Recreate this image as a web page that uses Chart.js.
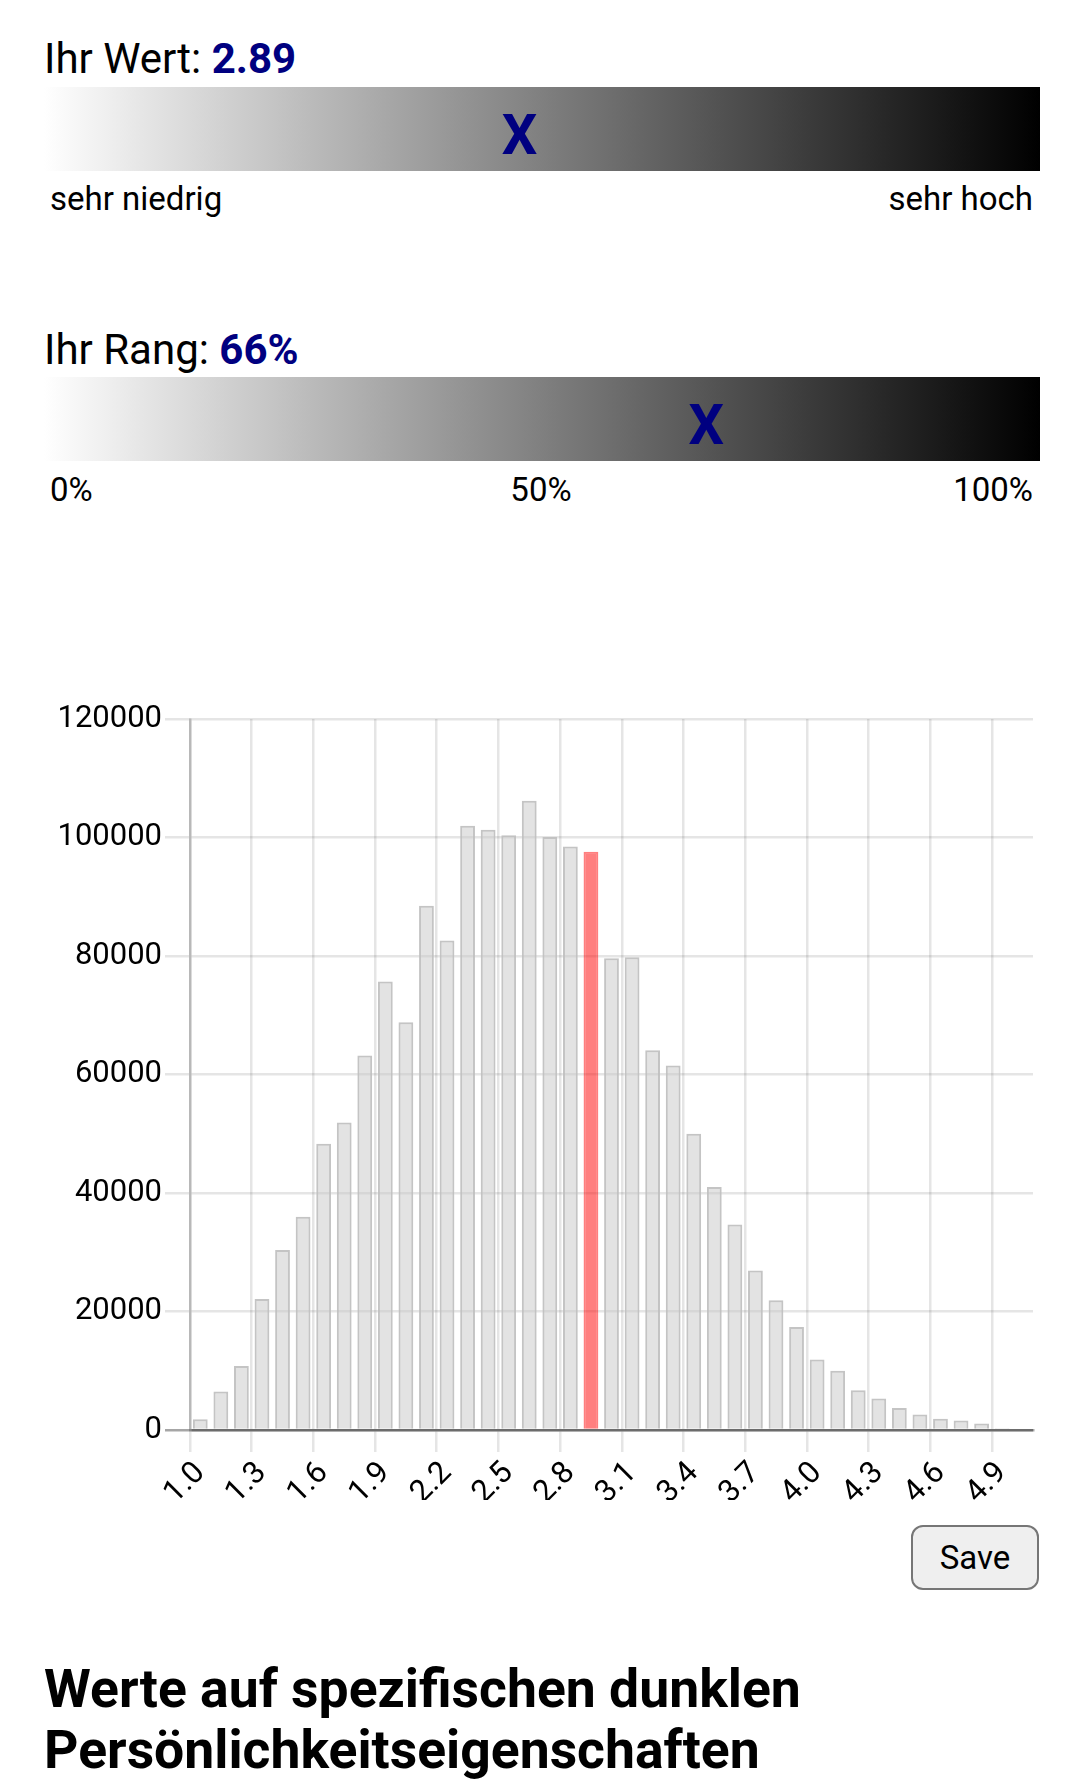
<!DOCTYPE html>
<html lang="de">
<head>
<meta charset="utf-8">
<title>Ihr Wert</title>
<script src="https://cdn.jsdelivr.net/npm/chart.js@4.4.1/dist/chart.umd.min.js"></script>
<style>
  html, body { margin: 0; padding: 0; background: #fff; }
  body {
    width: 1080px; height: 1790px; position: relative; overflow: hidden;
    font-family: Roboto, "Noto Sans", sans-serif; color: #000;
  }
  .title { position: absolute; left: 44px; font-size: 42px; line-height: 42px; white-space: nowrap; }
  .title b { color: #000080; font-weight: 700; }
  .scale {
    position: absolute; left: 44px; width: 996px; height: 84px;
    background: linear-gradient(to right, #fff, #000);
  }
  .marker {
    position: absolute; top: 20px; font-size: 56px; line-height: 56px;
    font-weight: 700; color: #000080; transform: translateX(-50%);
  }
  .lbl { position: absolute; font-size: 33px; line-height: 33px; white-space: nowrap; }
  #chartBox { position: absolute; left: 0; top: 690px; width: 1080px; height: 810px; }
  #saveBtn {
    position: absolute; left: 911px; top: 1525px; width: 128px; height: 65px;
    font-family: Roboto, sans-serif; font-size: 33px; color: #000;
    background: #efefef; border: 2px solid #767676; border-radius: 12px; padding: 0;
  }
  h3 {
    position: absolute; left: 44px; top: 1658px; margin: 0;
    font-size: 53.5px; line-height: 61px; font-weight: 700;
  }
</style>
</head>
<body>

<div class="title" style="top:38px">Ihr Wert: <b id="wertText"></b></div>
<div class="scale" style="top:87px"><span class="marker" id="wertX">X</span></div>
<div class="lbl" style="left:50px; top:182px">sehr niedrig</div>
<div class="lbl" style="right:47px; top:182px">sehr hoch</div>

<div class="title" style="top:329px">Ihr Rang: <b id="rangText"></b></div>
<div class="scale" style="top:377px"><span class="marker" id="rangX">X</span></div>
<div class="lbl" style="left:50px; top:473px">0%</div>
<div class="lbl" style="left:541px; top:473px; transform:translateX(-50%)">50%</div>
<div class="lbl" style="right:47px; top:473px">100%</div>

<div id="chartBox"><canvas id="histChart" width="1080" height="810"></canvas></div>
<button id="saveBtn">Save</button>

<h3>Werte auf spezifischen dunklen<br>Persönlichkeitseigenschaften</h3>

<script>
// Wert des Nutzers und Rang
const userValue = 2.89;
const userRank = 66;
const scaleMin = 1;
const scaleMax = 5;

// Kategorien (Wertebereich) und Häufigkeiten
const categories = ['1.0', '1.1', '1.2', '1.3', '1.4', '1.5', '1.6', '1.7', '1.8', '1.9',
                    '2.0', '2.1', '2.2', '2.3', '2.4', '2.5', '2.6', '2.7', '2.8', '2.9',
                    '3.0', '3.1', '3.2', '3.3', '3.4', '3.5', '3.6', '3.7', '3.8', '3.9',
                    '4.0', '4.1', '4.2', '4.3', '4.4', '4.5', '4.6', '4.7', '4.8', '4.9', '5.0'];
const counts = [1800, 6500, 10800, 22100, 30400, 36000, 48300, 51900, 63200, 75700,
                68800, 88500, 82600, 102000, 101300, 100400, 106200, 100100, 98500, 97600,
                79600, 79800, 64100, 61500, 50000, 41000, 34700, 26900, 21900, 17400,
                11900, 10000, 6700, 5300, 3700, 2600, 1900, 1600, 1100, 300, 0];

// Beschriftete Ticks
const xTickLabels = ['1.0', '1.3', '1.6', '1.9', '2.2', '2.5', '2.8', '3.1', '3.4', '3.7', '4.0', '4.3', '4.6', '4.9'];
const yTickValues = [0, 20000, 40000, 60000, 80000, 100000, 120000];

// Kopfbereich
document.getElementById('wertText').textContent = userValue.toFixed(2);
document.getElementById('rangText').textContent = userRank + '%';
const wertFrac = (userValue - scaleMin) / (scaleMax - scaleMin);
document.getElementById('wertX').style.left = 'calc(' + (wertFrac * 100) + '% + 5px)';
document.getElementById('rangX').style.left = 'calc(' + userRank + '% + 5px)';

// Balken des Nutzers hervorheben
const highlightLabel = (Math.round(userValue * 10) / 10).toFixed(1);
const barColors = categories.map(c => c === highlightLabel ? 'rgba(255,0,0,0.5)' : 'rgba(200,200,200,0.5)');
const barBorders = categories.map(c => c === highlightLabel ? 'rgba(255,0,0,0.5)' : 'rgba(190,190,190,0.9)');

const gridColor = 'rgba(0,0,0,0.1)';

new Chart(document.getElementById('histChart'), {
    type: 'bar',
    data: {
        labels: categories,
        datasets: [{
            data: counts,
            backgroundColor: barColors,
            borderColor: barBorders,
            borderWidth: 2
        }]
    },
    options: {
        responsive: false,
        animation: false,
        devicePixelRatio: 1,
        layout: { padding: { top: 29, right: 47, left: 0, bottom: 0 } },
        font: { family: 'Roboto' },
        plugins: {
            legend: { display: false },
            tooltip: { enabled: false }
        },
        scales: {
            x: {
                grid: {
                    offset: true,
                    lineWidth: 2.5,
                    tickLength: 22,
                    color: ctx => (ctx.tick && ctx.tick.label) ? gridColor : 'rgba(0,0,0,0)'
                },
                border: { color: 'rgba(0,0,0,0.35)', width: 2.5 },
                ticks: {
                    autoSkip: false,
                    minRotation: 45,
                    maxRotation: 45,
                    padding: 3,
                    color: '#000',
                    font: { family: 'Roboto', size: 31 },
                    callback: function (value) {
                        const lab = this.getLabelForValue(value);
                        return xTickLabels.includes(lab) ? lab : '';
                    }
                },
                afterFit: scale => { scale.height = 70; }
            },
            y: {
                min: yTickValues[0],
                max: yTickValues[yTickValues.length - 1],
                grid: {
                    lineWidth: 2.5,
                    tickLength: 25,
                    color: ctx => (ctx.tick && ctx.tick.value === 0) ? 'rgba(0,0,0,0.35)' : gridColor
                },
                border: { color: 'rgba(0,0,0,0.2)', width: 2.5 },
                ticks: {
                    padding: 3,
                    color: '#000',
                    font: { family: 'Roboto', size: 31 },
                    callback: value => String(value)
                },
                afterBuildTicks: scale => {
                    scale.ticks = yTickValues.map(v => ({ value: v }));
                },
                afterFit: scale => { scale.width = 190; }
            }
        }
    }
});
</script>
</body>
</html>
